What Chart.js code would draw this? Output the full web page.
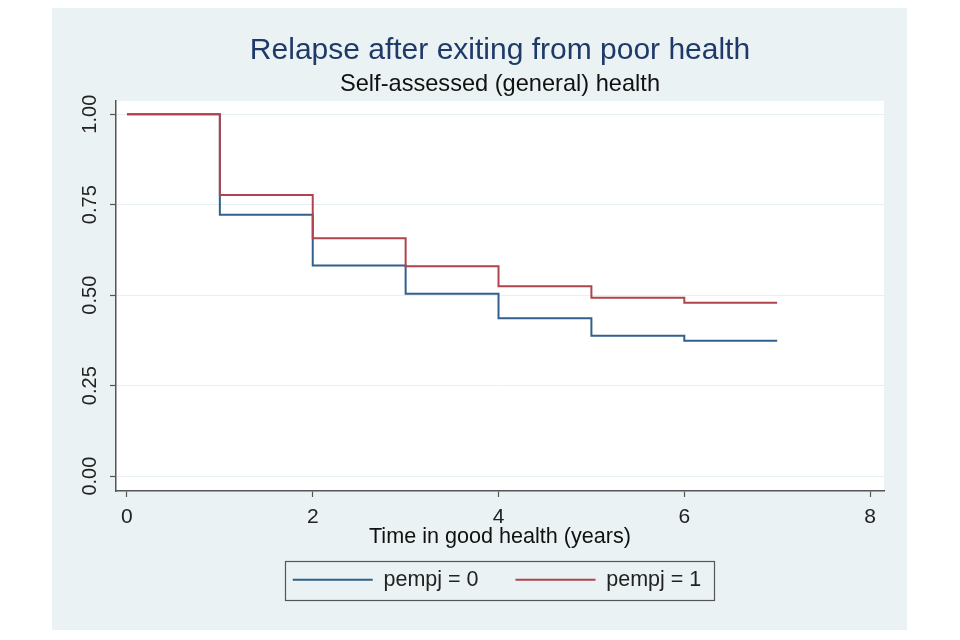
<!DOCTYPE html>
<html>
<head>
<meta charset="utf-8">
<script src="https://cdn.jsdelivr.net/npm/chart.js@4/dist/chart.umd.min.js"></script>
<style>
  html, body { margin: 0; padding: 0; background: #ffffff; width: 960px; height: 640px; overflow: hidden; }
  #wrap { position: absolute; left: 52px; top: 8px; width: 855px; height: 622px; background: #eaf2f3; }
  canvas { display: block; }
</style>
</head>
<body>
<div id="wrap"><canvas id="c" width="855" height="622"></canvas></div>
<script>
// Data (Kaplan-Meier step values)
const times = [0, 1, 2, 3, 4, 5, 6, 7];
const survival0 = [1.000, 0.722, 0.582, 0.504, 0.436, 0.388, 0.374, 0.374];
const survival1 = [1.000, 0.777, 0.657, 0.580, 0.525, 0.493, 0.479, 0.479];
const seriesLabels = ['pempj = 0', 'pempj = 1'];
const xTickValues = [0, 2, 4, 6, 8];
const yTickValues = [0, 0.25, 0.5, 0.75, 1];
const titleText = 'Relapse after exiting from poor health';
const subtitleText = 'Self-assessed (general) health';
const xTitleText = 'Time in good health (years)';

const FONT = '"Liberation Sans", Arial, sans-serif';
const BLUE = '#31608c';
const RED = '#b0444e';

const toPoints = (ys) => times.map((t, i) => ({ x: t, y: ys[i] }));

// Centre the legend items just left of the plot centre, as in the reference
const legendShift = {
  id: 'legendShift',
  afterUpdate(chart) {
    const lg = chart.legend;
    if (!lg || !lg.legendHitBoxes || !lg.legendHitBoxes.length) return;
    const hb = lg.legendHitBoxes;
    const l = Math.min(...hb.map(h => h.left));
    const r = Math.max(...hb.map(h => h.left + h.width));
    const a = chart.chartArea;
    const target = (a.left + a.right) / 2 - 3;
    const dx = target - (l + r) / 2;
    lg.left += dx; lg.right += dx;
    hb.forEach(h => { h.left += dx; });
  }
};

const legendBorder = {
  id: 'legendBorder',
  afterDraw(chart) {
    const lg = chart.legend;
    if (!lg || !lg.legendHitBoxes || !lg.legendHitBoxes.length) return;
    const hb = lg.legendHitBoxes;
    let l = Infinity, r = -Infinity, t = Infinity, b = -Infinity;
    hb.forEach(h => { l = Math.min(l, h.left); r = Math.max(r, h.left + h.width); t = Math.min(t, h.top); b = Math.max(b, h.top + h.height); });
    const ctx = chart.ctx;
    ctx.save();
    ctx.strokeStyle = '#555555';
    ctx.lineWidth = 1.2;
    const x0 = Math.round(l - 8) + 0.5, y0 = Math.round(t - 8.5) + 0.5;
    const x1 = Math.round(r + 13) + 0.5, y1 = Math.round(b + 9.5) + 0.5;
    ctx.strokeRect(x0, y0, x1 - x0, y1 - y0);
    ctx.restore();
  }
};

const plotBg = {
  id: 'plotBg',
  beforeDraw(chart) {
    const a = chart.chartArea; const ctx = chart.ctx;
    ctx.save(); ctx.fillStyle = '#ffffff';
    ctx.fillRect(a.left, a.top, a.right - a.left, a.bottom - a.top);
    ctx.restore();
  }
};

new Chart(document.getElementById('c'), {
  type: 'line',
  data: {
    datasets: [
      { label: seriesLabels[0], data: toPoints(survival0), borderColor: BLUE, backgroundColor: BLUE, borderWidth: 2, stepped: true, pointRadius: 0, order: 2 },
      { label: seriesLabels[1], data: toPoints(survival1), borderColor: RED, backgroundColor: RED, borderWidth: 2, stepped: true, pointRadius: 0, order: 1 }
    ]
  },
  options: {
    responsive: false,
    animation: false,
    devicePixelRatio: 1,
    layout: { padding: { top: 14, left: 0, right: 23, bottom: 29.5 } },
    plugins: {
      title: { display: true, text: titleText, fullSize: false, color: '#1f3a68', font: { family: FONT, size: 30, weight: 'normal' }, padding: { top: 10.5, bottom: 0 } },
      subtitle: { display: true, text: subtitleText, fullSize: false, color: '#111111', font: { family: FONT, size: 23.6, weight: 'normal' }, padding: { top: 1.5, bottom: 2.5 } },
      legend: {
        display: true, position: 'bottom', fullSize: false,
        labels: {
          color: '#222222', font: { family: FONT, size: 21.5 }, boxWidth: 80, boxHeight: 2, padding: 37,
          sort: (a, b) => a.datasetIndex - b.datasetIndex,
          generateLabels: (chart) => Chart.defaults.plugins.legend.labels.generateLabels(chart).map(it => Object.assign(it, { lineWidth: 0 }))
        }
      },
      tooltip: { enabled: false }
    },
    scales: {
      x: {
        type: 'linear', min: -0.118, max: 8.15,
        afterBuildTicks: (s) => { s.ticks = xTickValues.map(v => ({ value: v })); },
        afterFit: (s) => { s.height = 41; },
        ticks: { color: '#222222', font: { family: FONT, size: 21 }, padding: 8, maxRotation: 0, callback: (v) => String(v) },
        grid: { display: true, drawOnChartArea: false, drawTicks: true, tickLength: 6, tickColor: '#555555', tickWidth: 1.2 },
        border: { display: true, color: '#555555', width: 1.5 },
        title: { display: true, text: xTitleText, color: '#111111', font: { family: FONT, size: 21.6 }, padding: { top: 0, bottom: -18 } }
      },
      y: {
        type: 'linear', min: -0.041, max: 1.037,
        afterBuildTicks: (s) => { s.ticks = yTickValues.map(v => ({ value: v })); },
        afterFit: (s) => { s.width = 64; },
        ticks: { color: '#222222', font: { family: FONT, size: 20 }, padding: 0, minRotation: 90, maxRotation: 90, crossAlign: 'center', callback: (v) => Number(v).toFixed(2) },
        grid: { display: true, drawOnChartArea: true, color: '#e6eff1', lineWidth: 1, drawTicks: true, tickLength: 6, tickColor: '#555555', tickWidth: 1.2 },
        border: { display: true, color: '#555555', width: 1.5 }
      }
    }
  },
  plugins: [plotBg, legendShift, legendBorder]
});
</script>
</body>
</html>
